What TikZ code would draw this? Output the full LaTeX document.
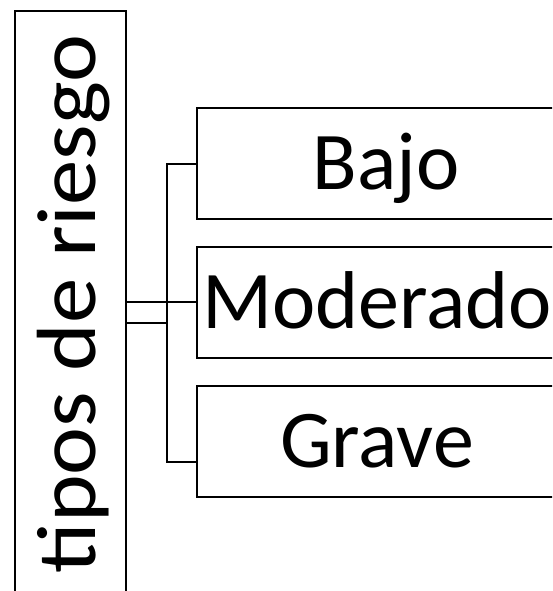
\documentclass[tikz,border=0pt]{standalone}
\usepackage{fontspec}
\setmainfont{Carlito}
\usetikzlibrary{calc}
\begin{document}
\begin{tikzpicture}[x=1pt, y=-1pt,
  frame/.style={draw=black, line width=2pt},
  levelbox/.style={frame, rectangle, inner sep=0pt,
    minimum width=360pt, minimum height=111pt,
    font=\fontsize{82}{98}\selectfont, text height=51.8pt, text depth=0pt},
  wire/.style={draw=black, line width=2pt, line join=miter}]
  \useasboundingbox (0,0) rectangle (552,591);
  \clip (0,0) rectangle (552,591);

  % tall box on the left, running off the bottom edge
  \node[frame, rectangle, inner sep=0pt, minimum width=111pt, minimum height=640pt,
        anchor=north west] (tipos) at (13.5,10) {};
  \node[anchor=base, rotate=90, inner sep=0pt,
        font=\fontsize{84}{100}\selectfont] (tiposlabel) at (95,304)
        {\scalebox{1.08}[1]{tipos de riesgo}};

  % the three risk levels
  \node[levelbox] (bajo) at (377,163.8) {\hspace*{18pt}Bajo};
  \node[levelbox] (moderado) at (377,302.2) {Moderado};
  \node[levelbox] (grave) at (377,441.2) {Grave};

  % bracket joining the levels
  \coordinate (jbot) at (166.5,462.3);
  \coordinate (jtop) at (bajo.west -| jbot);
  \coordinate (jmid) at (166.5,322.7);
  \draw[wire] (bajo.west) -- (jtop) -- (jbot) -- (jbot -| grave.west);
  \draw[wire] (tipos.east |- moderado.west) -- (moderado.west);
  \draw[wire] (tipos.east |- jmid) -- (jmid);
\end{tikzpicture}
\end{document}
